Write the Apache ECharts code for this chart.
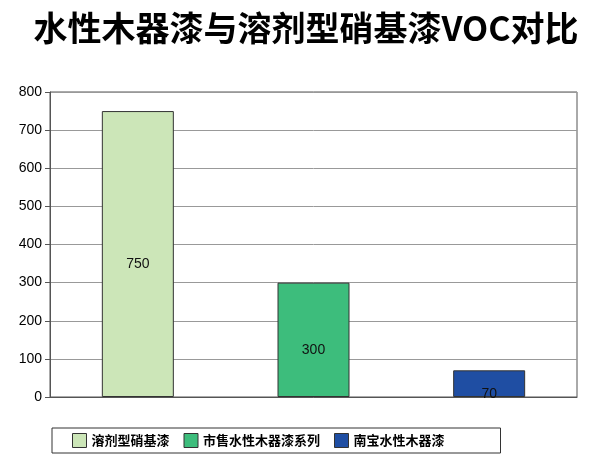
<!doctype html>
<html>
<head>
<meta charset="utf-8">
<script src="https://cdn.jsdelivr.net/npm/echarts@6/dist/echarts.min.js"></script>
<style>body{margin:0}#chart{width:612px;height:459px}</style>
</head>
<body>
<div id="chart"></div>
<script>
var categories = ['溶剂型硝基漆', '市售水性木器漆系列', '南宝水性木器漆'];
var values = [750, 300, 70];
var colors = ['#cce6b8', '#3dbd7c', '#1f4ea3'];
var yTicks = [0, 100, 200, 300, 400, 500, 600, 700, 800];

var chart = echarts.init(document.getElementById('chart'));
var series = categories.map(function (name, i) {
  var d = categories.map(function (c, j) { return j === i ? values[i] : '-'; });
  return {
    name: name, type: 'bar', stack: 'all', data: d, barWidth: 72,
    itemStyle: { color: colors[i], borderColor: '#333', borderWidth: 1 },
    label: { show: true, position: 'inside', offset: [0, 10], color: '#111', fontSize: 14, fontFamily: 'Liberation Sans' }
  };
});
chart.setOption({
  animation: false,
  title: {
    text: '水性木器漆与溶剂型硝基漆VOC对比', left: 'center', top: 6,
    textStyle: { fontSize: 34, fontWeight: 'bold', color: '#000', fontFamily: 'Noto Sans CJK SC' }
  },
  legend: {
    bottom: 6, left: 52, icon: 'rect', itemGap: 14, itemWidth: 14, itemHeight: 14,
    borderColor: '#333', borderWidth: 1, padding: [5, 56, 5, 20],
    itemStyle: { borderColor: '#333', borderWidth: 1 },
    textStyle: { fontSize: 13, fontWeight: 'bold', color: '#000', fontFamily: 'Noto Sans CJK SC' }
  },
  grid: { left: 50, right: 35, top: 92, bottom: 62, show: true, borderColor: '#555', borderWidth: 1 },
  xAxis: { type: 'category', data: categories, axisLabel: { show: false }, axisTick: { show: false },
    axisLine: { lineStyle: { color: '#555' } } },
  yAxis: { type: 'value', min: yTicks[0], max: yTicks[yTicks.length - 1], interval: 100,
    axisLabel: { color: '#000', fontSize: 14, fontFamily: 'Liberation Sans' },
    axisLine: { show: true, lineStyle: { color: '#555' } }, axisTick: { show: true, lineStyle: { color: '#555' } },
    splitLine: { lineStyle: { color: '#999' } } },
  series: series
});
</script>
</body>
</html>
